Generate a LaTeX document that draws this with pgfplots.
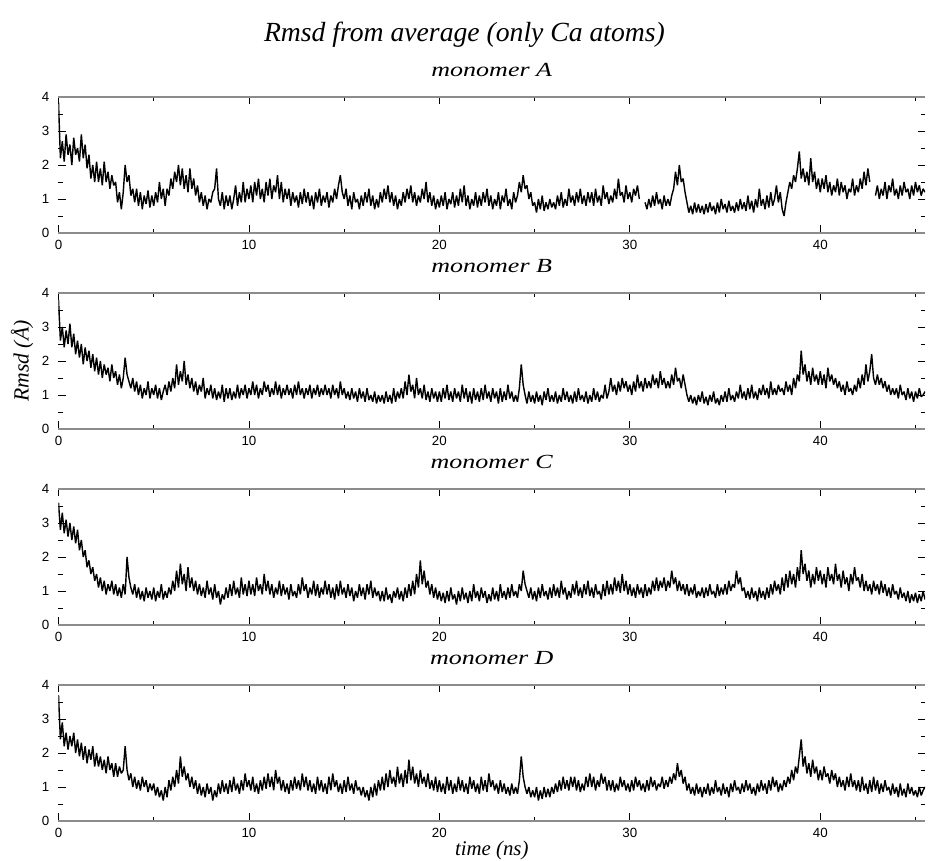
\documentclass[border=0pt]{standalone}
\usepackage{fontspec}
\setmainfont{Liberation Serif}
\newfontfamily\sansnum{Liberation Sans}
\newfontfamily\stretchit[FakeStretch=1.3]{Liberation Serif}
\usepackage{pgfplots}
\pgfplotsset{compat=1.18}
\pgfplotsset{
  rmsd/.style={
    scale only axis, width=519.9pt, height=81.6pt,
    xmin=0, xmax=45.5, ymin=0, ymax=4,
    xtick={0,10,20,30,40}, minor xtick={5,15,25,35,45},
    ytick={0,1,2,3,4}, minor ytick={0.5,1.5,2.5,3.5},
    major tick length=4.5pt, minor tick length=2.5pt,
    tick style={black, line width=0.5pt},
    separate axis lines,
    x axis line style={draw=black!45, line width=0.7pt},
    y axis line style={draw=none},
    /pgf/number format/assume math mode=true,
    tick label style={font=\sansnum\fontsize{8}{9}\selectfont},
    xticklabel style={yshift=-1pt},
    yticklabel style={xshift=-2pt},
    unbounded coords=jump,
    every axis title shift=0pt,
    title style={at={(0.5,1)}, anchor=center, yshift=16.2pt, font=\stretchit\itshape\fontsize{12}{14}\selectfont},
    anchor=south west,
  },
  dline/.style={black, line width=0.85pt, line join=bevel, no marks},
}
\begin{document}
\begin{tikzpicture}
\useasboundingbox (0,0) rectangle (557.4pt,516.6pt);
\node[font=\itshape\fontsize{16.6}{19}\selectfont] at (278.7pt,495.6pt) {Rmsd from average (only Ca atoms)};
% monomer A
\begin{axis}[rmsd, at={(35.1pt,376.8pt)}, title={monomer A}]
\addplot[dline] coordinates {
(0.0,3.85)(0.1,2.2)(0.2,2.7)(0.3,2.1)(0.4,2.9)(0.5,2.3)(0.6,2.6)(0.7,2.0)(0.8,2.8)(0.9,2.3)
(1.0,2.5)(1.1,2.1)(1.2,2.9)(1.3,2.2)(1.4,2.6)(1.5,1.9)(1.6,2.3)(1.7,1.6)(1.8,2.0)(1.9,1.5)
(2.0,2.1)(2.1,1.5)(2.2,1.9)(2.3,1.4)(2.4,2.1)(2.5,1.5)(2.6,1.8)(2.7,1.3)(2.8,1.7)(2.9,1.4)
(3.0,1.5)(3.1,0.9)(3.2,1.2)(3.3,0.7)(3.4,1.2)(3.5,2.0)(3.6,1.5)(3.7,1.7)(3.8,1.1)(3.9,1.3)
(4.0,0.9)(4.1,1.3)(4.2,0.8)(4.3,1.2)(4.4,0.7)(4.5,1.1)(4.6,0.85)(4.7,1.25)(4.8,0.75)(4.9,1.1)
(5.0,0.8)(5.1,1.2)(5.2,0.9)(5.3,1.5)(5.4,1.0)(5.5,1.3)(5.6,0.8)(5.7,1.3)(5.8,1.1)(5.9,1.6)
(6.0,1.3)(6.1,1.8)(6.2,1.5)(6.3,2.0)(6.4,1.4)(6.5,1.9)(6.6,1.3)(6.7,1.7)(6.8,1.2)(6.9,1.9)
(7.0,1.3)(7.1,1.6)(7.2,1.1)(7.3,1.4)(7.4,0.9)(7.5,1.2)(7.6,0.8)(7.7,1.1)(7.8,0.7)(7.9,1.0)
(8.0,0.9)(8.1,1.2)(8.2,1.3)(8.3,1.9)(8.4,1.0)(8.5,0.8)(8.6,1.2)(8.7,0.7)(8.8,1.1)(8.9,0.8)
(9.0,1.1)(9.1,0.7)(9.2,1.0)(9.3,1.4)(9.4,0.8)(9.5,1.2)(9.6,0.9)(9.7,1.5)(9.8,0.9)(9.9,1.3)
(10.0,1.0)(10.1,1.4)(10.2,0.9)(10.3,1.5)(10.4,1.1)(10.5,1.6)(10.6,1.0)(10.7,1.3)(10.8,0.9)(10.9,1.5)
(11.0,1.1)(11.1,1.6)(11.2,1.0)(11.3,1.4)(11.4,1.2)(11.5,1.7)(11.6,1.0)(11.7,1.5)(11.8,0.9)(11.9,1.3)
(12.0,1.0)(12.1,1.3)(12.2,0.8)(12.3,1.2)(12.4,0.9)(12.5,1.1)(12.6,0.75)(12.7,1.2)(12.8,0.85)(12.9,1.3)
(13.0,0.9)(13.1,1.2)(13.2,0.8)(13.3,1.1)(13.4,0.7)(13.5,1.2)(13.6,0.9)(13.7,1.3)(13.8,0.8)(13.9,1.1)
(14.0,0.9)(14.1,1.2)(14.2,0.75)(14.3,1.1)(14.4,0.9)(14.5,1.3)(14.6,1.0)(14.7,1.4)(14.8,1.7)(14.9,1.2)
(15.0,1.0)(15.1,1.3)(15.2,0.8)(15.3,1.1)(15.4,0.7)(15.5,1.2)(15.6,0.9)(15.7,1.0)(15.8,0.7)(15.9,1.1)
(16.0,0.8)(16.1,1.2)(16.2,0.9)(16.3,1.3)(16.4,0.8)(16.5,1.1)(16.6,0.7)(16.7,1.0)(16.8,0.75)(16.9,1.2)
(17.0,0.9)(17.1,1.3)(17.2,1.0)(17.3,1.4)(17.4,0.9)(17.5,1.2)(17.6,0.8)(17.7,1.1)(17.8,0.7)(17.9,1.0)
(18.0,0.8)(18.1,1.2)(18.2,0.9)(18.3,1.3)(18.4,1.0)(18.5,1.4)(18.6,0.9)(18.7,1.2)(18.8,0.8)(18.9,1.1)
(19.0,0.9)(19.1,1.3)(19.2,1.0)(19.3,1.5)(19.4,0.9)(19.5,1.2)(19.6,0.8)(19.7,1.1)(19.8,0.7)(19.9,1.0)
(20.0,0.75)(20.1,1.1)(20.2,0.8)(20.3,1.2)(20.4,0.7)(20.5,1.0)(20.6,0.85)(20.7,1.2)(20.8,0.75)(20.9,1.1)
(21.0,0.8)(21.1,1.3)(21.2,0.9)(21.3,1.4)(21.4,0.8)(21.5,1.1)(21.6,0.7)(21.7,1.0)(21.8,0.8)(21.9,1.2)
(22.0,0.75)(22.1,1.1)(22.2,0.8)(22.3,1.2)(22.4,0.9)(22.5,1.3)(22.6,0.8)(22.7,1.1)(22.8,0.7)(22.9,1.0)
(23.0,0.8)(23.1,1.2)(23.2,0.7)(23.3,1.1)(23.4,0.9)(23.5,1.3)(23.6,0.8)(23.7,1.0)(23.8,0.7)(23.9,1.2)
(24.0,0.9)(24.1,1.1)(24.2,1.5)(24.3,1.2)(24.4,1.7)(24.5,1.3)(24.6,1.4)(24.7,1.0)(24.8,1.2)(24.9,0.8)
(25.0,0.9)(25.1,0.6)(25.2,1.0)(25.3,0.7)(25.4,1.1)(25.5,0.65)(25.6,0.9)(25.7,0.7)(25.8,1.0)(25.9,0.75)
(26.0,0.9)(26.1,0.7)(26.2,1.1)(26.3,0.8)(26.4,1.2)(26.5,0.75)(26.6,1.0)(26.7,0.8)(26.8,1.3)(26.9,0.9)
(27.0,1.1)(27.1,0.8)(27.2,1.2)(27.3,0.9)(27.4,1.3)(27.5,0.85)(27.6,1.1)(27.7,0.8)(27.8,1.2)(27.9,0.9)
(28.0,1.2)(28.1,0.8)(28.2,1.3)(28.3,0.9)(28.4,1.1)(28.5,0.8)(28.6,1.4)(28.7,1.0)(28.8,1.2)(28.9,0.85)
(29.0,1.1)(29.1,0.9)(29.2,1.3)(29.3,1.0)(29.4,1.6)(29.5,1.1)(29.6,1.2)(29.7,0.9)(29.8,1.4)(29.9,1.0)
(30.0,1.2)(30.1,0.9)(30.2,1.3)(30.3,1.1)(30.4,1.4)(30.5,1.0)(30.6,nan)(30.7,nan)(30.8,0.9)(30.9,0.7)
(31.0,1.0)(31.1,0.75)(31.2,1.1)(31.3,0.8)(31.4,1.2)(31.5,0.85)(31.6,1.0)(31.7,0.7)(31.8,1.1)(31.9,0.8)
(32.0,1.0)(32.1,0.8)(32.2,1.1)(32.3,1.3)(32.4,1.8)(32.5,1.4)(32.6,2.0)(32.7,1.5)(32.8,1.6)(32.9,1.2)
(33.0,0.9)(33.1,0.6)(33.2,0.8)(33.3,0.55)(33.4,0.9)(33.5,0.6)(33.6,0.85)(33.7,0.6)(33.8,0.8)(33.9,0.55)
(34.0,0.85)(34.1,0.6)(34.2,0.9)(34.3,0.65)(34.4,0.8)(34.5,0.55)(34.6,0.9)(34.7,0.6)(34.8,1.0)(34.9,0.7)
(35.0,0.85)(35.1,0.6)(35.2,0.95)(35.3,0.65)(35.4,0.8)(35.5,0.6)(35.6,0.9)(35.7,0.65)(35.8,1.0)(35.9,0.7)
(36.0,0.9)(36.1,0.65)(36.2,1.1)(36.3,0.7)(36.4,0.95)(36.5,0.6)(36.6,1.0)(36.7,0.75)(36.8,1.3)(36.9,0.8)
(37.0,1.0)(37.1,0.7)(37.2,1.1)(37.3,0.75)(37.4,1.2)(37.5,0.8)(37.6,1.0)(37.7,1.4)(37.8,0.9)(37.9,1.2)
(38.0,0.7)(38.1,0.5)(38.2,0.9)(38.3,1.2)(38.4,1.5)(38.5,1.3)(38.6,1.7)(38.7,1.5)(38.8,1.9)(38.9,2.4)
(39.0,1.6)(39.1,1.9)(39.2,1.5)(39.3,1.8)(39.4,1.4)(39.5,2.2)(39.6,1.5)(39.7,1.8)(39.8,1.3)(39.9,1.6)
(40.0,1.2)(40.1,1.6)(40.2,1.3)(40.3,1.7)(40.4,1.2)(40.5,1.5)(40.6,1.1)(40.7,1.4)(40.8,1.2)(40.9,1.6)
(41.0,1.1)(41.1,1.5)(41.2,1.2)(41.3,1.4)(41.4,1.0)(41.5,1.3)(41.6,1.2)(41.7,1.6)(41.8,1.1)(41.9,1.4)
(42.0,1.2)(42.1,1.6)(42.2,1.3)(42.3,1.8)(42.4,1.4)(42.5,1.9)(42.6,1.5)(42.7,nan)(42.8,nan)(42.9,1.1)
(43.0,1.4)(43.1,1.0)(43.2,1.3)(43.3,1.1)(43.4,1.5)(43.5,1.0)(43.6,1.4)(43.7,1.2)(43.8,1.6)(43.9,1.1)
(44.0,1.3)(44.1,1.0)(44.2,1.4)(44.3,1.1)(44.4,1.5)(44.5,1.2)(44.6,1.3)(44.7,1.0)(44.8,1.4)(44.9,1.1)
(45.0,1.5)(45.1,1.2)(45.2,1.4)(45.3,1.1)(45.4,1.3)(45.5,1.2)
};
\end{axis}
% monomer B
\begin{axis}[rmsd, at={(35.1pt,259.2pt)}, title={monomer B},
  ylabel={Rmsd (\AA)}, ylabel style={at={(-0.0421,0.5)}, anchor=center, font=\itshape\fontsize{13}{15}\selectfont}]
\addplot[dline] coordinates {
(0.0,3.8)(0.1,2.6)(0.2,3.0)(0.3,2.4)(0.4,2.9)(0.5,2.5)(0.6,3.1)(0.7,2.4)(0.8,2.8)(0.9,2.2)
(1.0,2.6)(1.1,2.1)(1.2,2.5)(1.3,1.9)(1.4,2.4)(1.5,2.0)(1.6,2.3)(1.7,1.8)(1.8,2.2)(1.9,1.7)
(2.0,2.1)(2.1,1.6)(2.2,2.0)(2.3,1.5)(2.4,1.9)(2.5,1.6)(2.6,1.8)(2.7,1.4)(2.8,1.9)(2.9,1.5)
(3.0,1.7)(3.1,1.3)(3.2,1.6)(3.3,1.2)(3.4,1.5)(3.5,2.1)(3.6,1.6)(3.7,1.4)(3.8,1.2)(3.9,1.5)
(4.0,1.1)(4.1,1.4)(4.2,1.0)(4.3,1.3)(4.4,0.9)(4.5,1.2)(4.6,1.0)(4.7,1.4)(4.8,0.9)(4.9,1.2)
(5.0,1.0)(5.1,1.3)(5.2,0.9)(5.3,1.2)(5.4,0.85)(5.5,1.1)(5.6,1.3)(5.7,1.0)(5.8,1.4)(5.9,1.1)
(6.0,1.5)(6.1,1.2)(6.2,1.9)(6.3,1.3)(6.4,1.7)(6.5,1.4)(6.6,2.0)(6.7,1.3)(6.8,1.6)(6.9,1.2)
(7.0,1.5)(7.1,1.1)(7.2,1.4)(7.3,1.0)(7.4,1.3)(7.5,1.1)(7.6,1.5)(7.7,0.9)(7.8,1.2)(7.9,1.0)
(8.0,1.3)(8.1,0.9)(8.2,1.2)(8.3,0.85)(8.4,1.1)(8.5,0.9)(8.6,1.3)(8.7,0.8)(8.8,1.2)(8.9,0.9)
(9.0,1.2)(9.1,0.85)(9.2,1.1)(9.3,0.9)(9.4,1.3)(9.5,0.9)(9.6,1.2)(9.7,1.0)(9.8,1.3)(9.9,0.9)
(10.0,1.2)(10.1,1.0)(10.2,1.4)(10.3,1.0)(10.4,1.3)(10.5,0.9)(10.6,1.2)(10.7,1.0)(10.8,1.4)(10.9,1.1)
(11.0,1.3)(11.1,0.95)(11.2,1.2)(11.3,1.0)(11.4,1.4)(11.5,1.0)(11.6,1.3)(11.7,0.9)(11.8,1.2)(11.9,1.0)
(12.0,1.3)(12.1,1.0)(12.2,1.2)(12.3,0.9)(12.4,1.3)(12.5,1.0)(12.6,1.4)(12.7,1.0)(12.8,1.2)(12.9,0.9)
(13.0,1.2)(13.1,1.0)(13.2,1.3)(13.3,0.9)(13.4,1.2)(13.5,1.0)(13.6,1.3)(13.7,0.95)(13.8,1.2)(13.9,1.0)
(14.0,1.3)(14.1,1.0)(14.2,1.2)(14.3,0.9)(14.4,1.3)(14.5,1.0)(14.6,1.2)(14.7,0.9)(14.8,1.4)(14.9,1.0)
(15.0,1.2)(15.1,0.9)(15.2,1.1)(15.3,0.85)(15.4,1.2)(15.5,0.9)(15.6,1.1)(15.7,0.8)(15.8,1.2)(15.9,0.9)
(16.0,1.1)(16.1,0.8)(16.2,1.2)(16.3,0.85)(16.4,1.0)(16.5,0.8)(16.6,1.1)(16.7,0.75)(16.8,1.0)(16.9,0.8)
(17.0,1.0)(17.1,0.75)(17.2,1.1)(17.3,0.8)(17.4,1.0)(17.5,0.75)(17.6,1.2)(17.7,0.8)(17.8,1.1)(17.9,0.9)
(18.0,1.2)(18.1,0.9)(18.2,1.4)(18.3,1.0)(18.4,1.6)(18.5,1.1)(18.6,1.3)(18.7,0.9)(18.8,1.5)(18.9,1.0)
(19.0,1.2)(19.1,0.9)(19.2,1.3)(19.3,0.85)(19.4,1.1)(19.5,0.8)(19.6,1.2)(19.7,0.9)(19.8,1.1)(19.9,0.8)
(20.0,1.1)(20.1,0.8)(20.2,1.2)(20.3,0.9)(20.4,1.3)(20.5,0.85)(20.6,1.1)(20.7,0.8)(20.8,1.2)(20.9,0.9)
(21.0,1.1)(21.1,0.8)(21.2,1.3)(21.3,0.9)(21.4,1.2)(21.5,0.8)(21.6,1.1)(21.7,0.75)(21.8,1.2)(21.9,0.85)
(22.0,1.1)(22.1,0.8)(22.2,1.2)(22.3,0.85)(22.4,1.3)(22.5,0.9)(22.6,1.1)(22.7,0.8)(22.8,1.2)(22.9,0.9)
(23.0,1.1)(23.1,0.75)(23.2,1.2)(23.3,0.8)(23.4,1.1)(23.5,0.85)(23.6,1.3)(23.7,0.9)(23.8,1.1)(23.9,0.8)
(24.0,1.0)(24.1,0.8)(24.2,1.2)(24.3,1.9)(24.4,1.3)(24.5,1.0)(24.6,0.75)(24.7,1.1)(24.8,0.8)(24.9,1.0)
(25.0,0.75)(25.1,1.1)(25.2,0.8)(25.3,1.0)(25.4,0.7)(25.5,1.1)(25.6,0.85)(25.7,1.2)(25.8,0.8)(25.9,1.0)
(26.0,0.8)(26.1,1.1)(26.2,0.75)(26.3,1.0)(26.4,0.8)(26.5,1.2)(26.6,0.85)(26.7,1.1)(26.8,0.8)(26.9,1.0)
(27.0,0.75)(27.1,1.1)(27.2,0.8)(27.3,1.2)(27.4,0.85)(27.5,1.0)(27.6,0.8)(27.7,1.1)(27.8,0.75)(27.9,1.0)
(28.0,0.8)(28.1,1.2)(28.2,0.85)(28.3,1.1)(28.4,0.8)(28.5,1.0)(28.6,0.9)(28.7,1.3)(28.8,0.9)(28.9,1.1)
(29.0,1.5)(29.1,1.1)(29.2,1.3)(29.3,1.0)(29.4,1.4)(29.5,1.1)(29.6,1.5)(29.7,1.2)(29.8,1.4)(29.9,1.1)
(30.0,1.3)(30.1,1.0)(30.2,1.4)(30.3,1.1)(30.4,1.6)(30.5,1.2)(30.6,1.4)(30.7,1.1)(30.8,1.5)(30.9,1.2)
(31.0,1.4)(31.1,1.2)(31.2,1.6)(31.3,1.3)(31.4,1.5)(31.5,1.2)(31.6,1.7)(31.7,1.3)(31.8,1.5)(31.9,1.2)
(32.0,1.4)(32.1,1.2)(32.2,1.6)(32.3,1.3)(32.4,1.8)(32.5,1.4)(32.6,1.5)(32.7,1.2)(32.8,1.6)(32.9,1.3)
(33.0,1.0)(33.1,0.8)(33.2,1.0)(33.3,0.75)(33.4,0.95)(33.5,0.7)(33.6,1.0)(33.7,0.8)(33.8,1.1)(33.9,0.75)
(34.0,0.95)(34.1,0.7)(34.2,1.0)(34.3,0.8)(34.4,1.1)(34.5,0.75)(34.6,0.9)(34.7,0.7)(34.8,1.0)(34.9,0.8)
(35.0,1.1)(35.1,0.8)(35.2,1.2)(35.3,0.85)(35.4,1.0)(35.5,0.8)(35.6,1.1)(35.7,0.9)(35.8,1.3)(35.9,0.9)
(36.0,1.1)(36.1,0.85)(36.2,1.2)(36.3,0.9)(36.4,1.3)(36.5,0.9)(36.6,1.1)(36.7,0.85)(36.8,1.2)(36.9,1.0)
(37.0,1.3)(37.1,1.0)(37.2,1.2)(37.3,0.9)(37.4,1.4)(37.5,1.0)(37.6,1.2)(37.7,1.0)(37.8,1.3)(37.9,1.1)
(38.0,1.2)(38.1,1.0)(38.2,1.4)(38.3,1.1)(38.4,1.3)(38.5,1.0)(38.6,1.5)(38.7,1.2)(38.8,1.6)(38.9,1.4)
(39.0,2.3)(39.1,1.6)(39.2,1.9)(39.3,1.4)(39.4,1.7)(39.5,1.3)(39.6,1.8)(39.7,1.4)(39.8,1.6)(39.9,1.3)
(40.0,1.7)(40.1,1.3)(40.2,1.6)(40.3,1.2)(40.4,1.8)(40.5,1.4)(40.6,1.6)(40.7,1.3)(40.8,1.5)(40.9,1.2)
(41.0,1.4)(41.1,1.1)(41.2,1.3)(41.3,1.0)(41.4,1.4)(41.5,1.1)(41.6,1.2)(41.7,1.0)(41.8,1.3)(41.9,1.1)
(42.0,1.5)(42.1,1.2)(42.2,1.6)(42.3,1.3)(42.4,1.9)(42.5,1.4)(42.6,1.7)(42.7,2.2)(42.8,1.5)(42.9,1.3)
(43.0,1.6)(43.1,1.3)(43.2,1.5)(43.3,1.2)(43.4,1.4)(43.5,1.1)(43.6,1.3)(43.7,1.0)(43.8,1.2)(43.9,1.0)
(44.0,1.2)(44.1,0.9)(44.2,1.3)(44.3,1.0)(44.4,1.1)(44.5,0.85)(44.6,1.2)(44.7,0.9)(44.8,1.1)(44.9,0.8)
(45.0,1.1)(45.1,0.9)(45.2,1.2)(45.3,0.95)(45.4,1.0)(45.5,1.1)
};
\end{axis}
% monomer C
\begin{axis}[rmsd, at={(35.1pt,141.6pt)}, title={monomer C}]
\addplot[dline] coordinates {
(0.0,3.6)(0.1,2.8)(0.2,3.3)(0.3,2.7)(0.4,3.1)(0.5,2.6)(0.6,3.0)(0.7,2.5)(0.8,2.9)(0.9,2.4)
(1.0,2.8)(1.1,2.2)(1.2,2.5)(1.3,2.0)(1.4,2.2)(1.5,1.7)(1.6,1.9)(1.7,1.5)(1.8,1.7)(1.9,1.3)
(2.0,1.5)(2.1,1.1)(2.2,1.4)(2.3,1.0)(2.4,1.3)(2.5,0.9)(2.6,1.2)(2.7,1.0)(2.8,1.3)(2.9,0.9)
(3.0,1.2)(3.1,0.85)(3.2,1.1)(3.3,0.8)(3.4,1.2)(3.5,0.9)(3.6,2.0)(3.7,1.4)(3.8,1.1)(3.9,0.9)
(4.0,1.2)(4.1,0.8)(4.2,1.1)(4.3,0.75)(4.4,1.0)(4.5,0.7)(4.6,1.1)(4.7,0.8)(4.8,1.0)(4.9,0.75)
(5.0,1.1)(5.1,0.7)(5.2,1.0)(5.3,0.8)(5.4,1.2)(5.5,0.75)(5.6,1.0)(5.7,0.8)(5.8,1.1)(5.9,0.9)
(6.0,1.3)(6.1,1.0)(6.2,1.6)(6.3,1.1)(6.4,1.8)(6.5,1.2)(6.6,1.5)(6.7,1.0)(6.8,1.7)(6.9,1.1)
(7.0,1.4)(7.1,1.0)(7.2,1.3)(7.3,0.9)(7.4,1.2)(7.5,0.85)(7.6,1.1)(7.7,0.8)(7.8,1.3)(7.9,0.9)
(8.0,1.1)(8.1,0.75)(8.2,1.2)(8.3,0.8)(8.4,1.0)(8.5,0.6)(8.6,0.9)(8.7,0.75)(8.8,1.1)(8.9,0.8)
(9.0,1.2)(9.1,0.85)(9.2,1.3)(9.3,0.9)(9.4,1.1)(9.5,0.8)(9.6,1.4)(9.7,0.9)(9.8,1.2)(9.9,0.85)
(10.0,1.3)(10.1,0.9)(10.2,1.2)(10.3,0.85)(10.4,1.4)(10.5,1.0)(10.6,1.2)(10.7,0.9)(10.8,1.5)(10.9,1.0)
(11.0,1.3)(11.1,0.9)(11.2,1.2)(11.3,0.8)(11.4,1.1)(11.5,0.9)(11.6,1.3)(11.7,0.85)(11.8,1.2)(11.9,0.9)
(12.0,1.1)(12.1,0.75)(12.2,1.2)(12.3,0.85)(12.4,1.0)(12.5,0.8)(12.6,1.2)(12.7,0.9)(12.8,1.4)(12.9,1.0)
(13.0,1.2)(13.1,0.8)(13.2,1.1)(13.3,0.9)(13.4,1.3)(13.5,0.85)(13.6,1.2)(13.7,0.8)(13.8,1.1)(13.9,0.9)
(14.0,1.3)(14.1,0.9)(14.2,1.2)(14.3,0.8)(14.4,1.1)(14.5,0.75)(14.6,1.2)(14.7,0.85)(14.8,1.3)(14.9,0.9)
(15.0,1.1)(15.1,0.8)(15.2,1.2)(15.3,0.85)(15.4,1.1)(15.5,0.7)(15.6,1.0)(15.7,0.8)(15.8,1.2)(15.9,0.85)
(16.0,1.1)(16.1,0.75)(16.2,1.2)(16.3,0.9)(16.4,1.3)(16.5,0.8)(16.6,1.1)(16.7,0.85)(16.8,1.0)(16.9,0.7)
(17.0,1.0)(17.1,0.7)(17.2,1.1)(17.3,0.75)(17.4,0.9)(17.5,0.65)(17.6,1.0)(17.7,0.8)(17.8,1.1)(17.9,0.75)
(18.0,1.0)(18.1,0.7)(18.2,1.1)(18.3,0.8)(18.4,1.2)(18.5,0.85)(18.6,1.3)(18.7,0.9)(18.8,1.5)(18.9,1.1)
(19.0,1.9)(19.1,1.2)(19.2,1.6)(19.3,1.1)(19.4,1.3)(19.5,0.9)(19.6,1.2)(19.7,0.8)(19.8,1.1)(19.9,0.75)
(20.0,1.0)(20.1,0.7)(20.2,0.95)(20.3,0.65)(20.4,1.0)(20.5,0.7)(20.6,1.1)(20.7,0.75)(20.8,0.9)(20.9,0.6)
(21.0,1.0)(21.1,0.7)(21.2,1.1)(21.3,0.75)(21.4,0.95)(21.5,0.65)(21.6,1.0)(21.7,0.7)(21.8,1.2)(21.9,0.8)
(22.0,1.0)(22.1,0.7)(22.2,1.1)(22.3,0.8)(22.4,1.0)(22.5,0.65)(22.6,0.9)(22.7,0.7)(22.8,1.1)(22.9,0.75)
(23.0,1.0)(23.1,0.7)(23.2,1.2)(23.3,0.8)(23.4,1.0)(23.5,0.75)(23.6,1.1)(23.7,0.8)(23.8,1.2)(23.9,0.85)
(24.0,1.0)(24.1,0.8)(24.2,1.2)(24.3,1.0)(24.4,1.6)(24.5,1.2)(24.6,1.0)(24.7,0.8)(24.8,1.1)(24.9,0.75)
(25.0,1.0)(25.1,0.7)(25.2,1.1)(25.3,0.8)(25.4,1.2)(25.5,0.85)(25.6,1.0)(25.7,0.75)(25.8,1.1)(25.9,0.8)
(26.0,1.2)(26.1,0.85)(26.2,1.1)(26.3,0.8)(26.4,1.3)(26.5,0.9)(26.6,1.1)(26.7,0.75)(26.8,1.0)(26.9,0.8)
(27.0,1.2)(27.1,0.9)(27.2,1.3)(27.3,0.85)(27.4,1.1)(27.5,0.8)(27.6,1.2)(27.7,0.9)(27.8,1.3)(27.9,0.85)
(28.0,1.1)(28.1,0.8)(28.2,1.2)(28.3,0.9)(28.4,1.0)(28.5,0.75)(28.6,1.2)(28.7,0.85)(28.8,1.3)(28.9,0.9)
(29.0,1.2)(29.1,0.9)(29.2,1.4)(29.3,1.0)(29.4,1.3)(29.5,0.95)(29.6,1.5)(29.7,1.0)(29.8,1.3)(29.9,0.9)
(30.0,1.2)(30.1,0.85)(30.2,1.1)(30.3,0.8)(30.4,1.2)(30.5,0.9)(30.6,1.1)(30.7,0.8)(30.8,1.2)(30.9,0.85)
(31.0,1.1)(31.1,0.9)(31.2,1.3)(31.3,1.0)(31.4,1.4)(31.5,1.0)(31.6,1.3)(31.7,1.1)(31.8,1.4)(31.9,1.0)
(32.0,1.3)(32.1,1.1)(32.2,1.6)(32.3,1.2)(32.4,1.4)(32.5,1.0)(32.6,1.3)(32.7,1.0)(32.8,1.2)(32.9,0.9)
(33.0,1.2)(33.1,0.85)(33.2,1.1)(33.3,0.9)(33.4,1.2)(33.5,0.8)(33.6,1.0)(33.7,0.85)(33.8,1.1)(33.9,0.8)
(34.0,1.1)(34.1,0.85)(34.2,1.2)(34.3,0.9)(34.4,1.0)(34.5,0.8)(34.6,1.2)(34.7,0.85)(34.8,1.1)(34.9,0.9)
(35.0,1.2)(35.1,0.9)(35.2,1.3)(35.3,1.0)(35.4,1.2)(35.5,1.1)(35.6,1.6)(35.7,1.2)(35.8,1.4)(35.9,1.0)
(36.0,1.1)(36.1,0.8)(36.2,1.0)(36.3,0.75)(36.4,1.1)(36.5,0.8)(36.6,1.0)(36.7,0.7)(36.8,1.1)(36.9,0.8)
(37.0,1.0)(37.1,0.75)(37.2,1.1)(37.3,0.8)(37.4,1.2)(37.5,0.9)(37.6,1.3)(37.7,1.0)(37.8,1.2)(37.9,0.9)
(38.0,1.4)(38.1,1.0)(38.2,1.5)(38.3,1.1)(38.4,1.6)(38.5,1.2)(38.6,1.5)(38.7,1.1)(38.8,1.7)(38.9,1.3)
(39.0,2.2)(39.1,1.5)(39.2,1.8)(39.3,1.3)(39.4,1.6)(39.5,1.1)(39.6,1.5)(39.7,1.2)(39.8,1.7)(39.9,1.3)
(40.0,1.6)(40.1,1.2)(40.2,1.5)(40.3,1.1)(40.4,1.7)(40.5,1.3)(40.6,1.5)(40.7,1.2)(40.8,1.8)(40.9,1.3)
(41.0,1.5)(41.1,1.1)(41.2,1.6)(41.3,1.2)(41.4,1.4)(41.5,1.0)(41.6,1.5)(41.7,1.2)(41.8,1.7)(41.9,1.3)
(42.0,1.4)(42.1,1.1)(42.2,1.5)(42.3,1.0)(42.4,1.3)(42.5,1.0)(42.6,1.2)(42.7,0.9)(42.8,1.3)(42.9,1.0)
(43.0,1.2)(43.1,0.9)(43.2,1.3)(43.3,0.95)(43.4,1.2)(43.5,0.85)(43.6,1.1)(43.7,0.8)(43.8,1.2)(43.9,0.9)
(44.0,1.0)(44.1,0.75)(44.2,1.1)(44.3,0.8)(44.4,0.95)(44.5,0.7)(44.6,1.0)(44.7,0.65)(44.8,0.9)(44.9,0.7)
(45.0,0.95)(45.1,0.65)(45.2,0.9)(45.3,0.7)(45.4,1.0)(45.5,0.75)
};
\end{axis}
% monomer D
\begin{axis}[rmsd, at={(35.1pt,24pt)}, title={monomer D},
  xlabel={time (ns)}, xlabel style={at={(0.5,0)}, anchor=center, yshift=-17.4pt, font=\itshape\fontsize{12.5}{14}\selectfont}]
\addplot[dline] coordinates {
(0.0,3.7)(0.1,2.4)(0.2,2.9)(0.3,2.2)(0.4,2.6)(0.5,2.1)(0.6,2.5)(0.7,2.2)(0.8,2.6)(0.9,2.0)
(1.0,2.4)(1.1,1.9)(1.2,2.3)(1.3,1.8)(1.4,2.2)(1.5,1.7)(1.6,2.1)(1.7,1.8)(1.8,2.2)(1.9,1.6)
(2.0,2.0)(2.1,1.6)(2.2,1.9)(2.3,1.5)(2.4,1.8)(2.5,1.4)(2.6,1.9)(2.7,1.5)(2.8,1.7)(2.9,1.3)
(3.0,1.7)(3.1,1.3)(3.2,1.6)(3.3,1.4)(3.4,1.5)(3.5,2.2)(3.6,1.5)(3.7,1.2)(3.8,1.4)(3.9,1.0)
(4.0,1.3)(4.1,0.95)(4.2,1.2)(4.3,0.9)(4.4,1.3)(4.5,1.0)(4.6,1.2)(4.7,0.85)(4.8,1.1)(4.9,0.9)
(5.0,1.1)(5.1,0.75)(5.2,1.0)(5.3,0.7)(5.4,0.9)(5.5,0.6)(5.6,1.0)(5.7,0.7)(5.8,1.2)(5.9,0.9)
(6.0,1.3)(6.1,1.0)(6.2,1.5)(6.3,1.1)(6.4,1.9)(6.5,1.3)(6.6,1.6)(6.7,1.2)(6.8,1.4)(6.9,1.0)
(7.0,1.3)(7.1,0.95)(7.2,1.2)(7.3,0.8)(7.4,1.1)(7.5,0.75)(7.6,1.0)(7.7,0.7)(7.8,1.1)(7.9,0.8)
(8.0,1.0)(8.1,0.6)(8.2,0.9)(8.3,0.7)(8.4,1.1)(8.5,0.8)(8.6,1.2)(8.7,0.85)(8.8,1.1)(8.9,0.8)
(9.0,1.2)(9.1,0.85)(9.2,1.3)(9.3,0.9)(9.4,1.1)(9.5,0.8)(9.6,1.2)(9.7,0.9)(9.8,1.4)(9.9,1.0)
(10.0,1.2)(10.1,0.9)(10.2,1.3)(10.3,0.85)(10.4,1.1)(10.5,0.8)(10.6,1.2)(10.7,0.9)(10.8,1.3)(10.9,0.95)
(11.0,1.4)(11.1,1.0)(11.2,1.3)(11.3,0.9)(11.4,1.5)(11.5,1.1)(11.6,1.3)(11.7,0.9)(11.8,1.2)(11.9,0.85)
(12.0,1.1)(12.1,0.8)(12.2,1.2)(12.3,0.9)(12.4,1.3)(12.5,0.95)(12.6,1.2)(12.7,0.9)(12.8,1.4)(12.9,1.0)
(13.0,1.3)(13.1,0.9)(13.2,1.2)(13.3,0.85)(13.4,1.1)(13.5,0.8)(13.6,1.3)(13.7,0.9)(13.8,1.2)(13.9,0.85)
(14.0,1.1)(14.1,0.8)(14.2,1.3)(14.3,0.9)(14.4,1.4)(14.5,1.0)(14.6,1.2)(14.7,0.85)(14.8,1.1)(14.9,0.8)
(15.0,1.2)(15.1,0.85)(15.2,1.3)(15.3,0.9)(15.4,1.1)(15.5,0.8)(15.6,1.2)(15.7,0.9)(15.8,1.0)(15.9,0.75)
(16.0,1.0)(16.1,0.7)(16.2,0.9)(16.3,0.6)(16.4,1.0)(16.5,0.7)(16.6,1.1)(16.7,0.75)(16.8,1.2)(16.9,0.9)
(17.0,1.3)(17.1,0.9)(17.2,1.4)(17.3,1.0)(17.4,1.5)(17.5,1.1)(17.6,1.3)(17.7,1.0)(17.8,1.6)(17.9,1.1)
(18.0,1.4)(18.1,1.0)(18.2,1.5)(18.3,1.1)(18.4,1.8)(18.5,1.2)(18.6,1.6)(18.7,1.1)(18.8,1.4)(18.9,1.0)
(19.0,1.5)(19.1,1.1)(19.2,1.3)(19.3,1.0)(19.4,1.4)(19.5,0.95)(19.6,1.2)(19.7,0.9)(19.8,1.3)(19.9,0.85)
(20.0,1.2)(20.1,0.85)(20.2,1.1)(20.3,0.8)(20.4,1.3)(20.5,0.9)(20.6,1.2)(20.7,0.8)(20.8,1.1)(20.9,0.85)
(21.0,1.3)(21.1,0.9)(21.2,1.2)(21.3,0.85)(21.4,1.1)(21.5,0.8)(21.6,1.3)(21.7,0.95)(21.8,1.2)(21.9,0.85)
(22.0,1.1)(22.1,0.8)(22.2,1.3)(22.3,0.9)(22.4,1.2)(22.5,0.85)(22.6,1.4)(22.7,1.0)(22.8,1.2)(22.9,0.9)
(23.0,1.1)(23.1,0.8)(23.2,1.2)(23.3,0.85)(23.4,1.1)(23.5,0.8)(23.6,1.0)(23.7,0.75)(23.8,1.1)(23.9,0.8)
(24.0,1.0)(24.1,0.8)(24.2,1.2)(24.3,1.9)(24.4,1.3)(24.5,1.0)(24.6,0.8)(24.7,1.0)(24.8,0.7)(24.9,0.9)
(25.0,0.7)(25.1,1.0)(25.2,0.6)(25.3,0.9)(25.4,0.65)(25.5,1.0)(25.6,0.7)(25.7,0.95)(25.8,0.7)(25.9,1.0)
(26.0,0.8)(26.1,1.1)(26.2,0.85)(26.3,1.2)(26.4,0.9)(26.5,1.3)(26.6,0.95)(26.7,1.2)(26.8,0.9)(26.9,1.3)
(27.0,1.0)(27.1,1.3)(27.2,0.9)(27.3,1.2)(27.4,0.85)(27.5,1.1)(27.6,0.9)(27.7,1.3)(27.8,1.0)(27.9,1.4)
(28.0,1.0)(28.1,1.3)(28.2,0.9)(28.3,1.2)(28.4,1.0)(28.5,1.4)(28.6,1.1)(28.7,1.3)(28.8,0.9)(28.9,1.2)
(29.0,0.9)(29.1,1.2)(29.2,0.85)(29.3,1.1)(29.4,0.9)(29.5,1.3)(29.6,1.0)(29.7,1.2)(29.8,0.9)(29.9,1.1)
(30.0,0.85)(30.1,1.2)(30.2,0.9)(30.3,1.3)(30.4,1.0)(30.5,1.2)(30.6,0.9)(30.7,1.1)(30.8,0.85)(30.9,1.2)
(31.0,0.9)(31.1,1.3)(31.2,1.0)(31.3,1.2)(31.4,0.9)(31.5,1.1)(31.6,1.0)(31.7,1.3)(31.8,0.95)(31.9,1.2)
(32.0,1.0)(32.1,1.3)(32.2,1.1)(32.3,1.4)(32.4,1.2)(32.5,1.7)(32.6,1.3)(32.7,1.5)(32.8,1.1)(32.9,1.3)
(33.0,0.9)(33.1,1.1)(33.2,0.8)(33.3,1.0)(33.4,0.75)(33.5,1.1)(33.6,0.8)(33.7,1.0)(33.8,0.7)(33.9,1.0)
(34.0,0.8)(34.1,1.1)(34.2,0.75)(34.3,1.0)(34.4,0.8)(34.5,1.2)(34.6,0.85)(34.7,1.0)(34.8,0.75)(34.9,1.1)
(35.0,0.8)(35.1,1.0)(35.2,0.7)(35.3,1.1)(35.4,0.85)(35.5,1.2)(35.6,0.9)(35.7,1.0)(35.8,0.8)(35.9,1.1)
(36.0,0.85)(36.1,1.2)(36.2,0.9)(36.3,1.1)(36.4,0.8)(36.5,1.0)(36.6,0.75)(36.7,1.1)(36.8,0.85)(36.9,1.2)
(37.0,0.9)(37.1,1.1)(37.2,0.8)(37.3,1.2)(37.4,0.9)(37.5,1.3)(37.6,1.0)(37.7,1.2)(37.8,0.85)(37.9,1.1)
(38.0,0.9)(38.1,1.2)(38.2,1.0)(38.3,1.3)(38.4,1.1)(38.5,1.5)(38.6,1.2)(38.7,1.6)(38.8,1.4)(38.9,1.9)
(39.0,2.4)(39.1,1.6)(39.2,1.9)(39.3,1.4)(39.4,1.7)(39.5,1.3)(39.6,1.8)(39.7,1.4)(39.8,1.6)(39.9,1.2)
(40.0,1.5)(40.1,1.2)(40.2,1.6)(40.3,1.3)(40.4,1.4)(40.5,1.1)(40.6,1.5)(40.7,1.2)(40.8,1.4)(40.9,1.0)
(41.0,1.3)(41.1,1.0)(41.2,1.2)(41.3,0.9)(41.4,1.3)(41.5,1.0)(41.6,1.4)(41.7,1.0)(41.8,1.2)(41.9,0.9)
(42.0,1.2)(42.1,0.85)(42.2,1.3)(42.3,0.9)(42.4,1.1)(42.5,0.8)(42.6,1.2)(42.7,0.85)(42.8,1.3)(42.9,0.9)
(43.0,1.2)(43.1,0.8)(43.2,1.1)(43.3,0.85)(43.4,1.2)(43.5,0.9)(43.6,1.0)(43.7,0.75)(43.8,1.1)(43.9,0.8)
(44.0,1.0)(44.1,0.7)(44.2,1.1)(44.3,0.75)(44.4,0.95)(44.5,0.7)(44.6,1.1)(44.7,0.8)(44.8,1.0)(44.9,0.75)
(45.0,0.9)(45.1,0.7)(45.2,1.0)(45.3,0.75)(45.4,0.9)(45.5,1.0)
};
\end{axis}
\end{tikzpicture}
\end{document}
